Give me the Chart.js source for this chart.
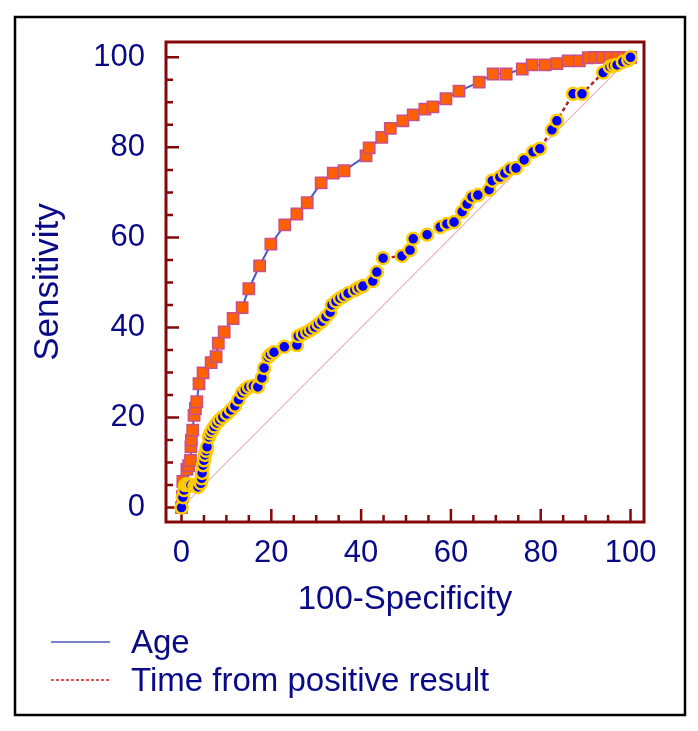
<!DOCTYPE html>
<html>
<head>
<meta charset="utf-8">
<script src="https://cdn.jsdelivr.net/npm/chart.js@4.4.1/dist/chart.umd.min.js"></script>
<style>
  html, body { margin: 0; padding: 0; background: #fff; }
  canvas { display: block; }
</style>
</head>
<body>
<canvas id="roc" width="698" height="731"></canvas>
<script>
// --- data ---
const ageX = [0, 0.2, 0.3, 1.2, 1.6, 2, 2.1, 2.2, 2.5, 2.8, 3.1, 3.4, 3.9, 4.8, 6.6, 7.7, 8.2, 9.5, 11.5, 13.5, 15, 17.4, 19.9, 23, 25.7, 28, 31.1, 33.8, 36.2, 41.1, 41.8, 44.6, 46.5, 49.3, 51.6, 54.2, 56, 58.9, 61.8, 66.3, 69.4, 72.3, 75.9, 78.1, 81, 83.6, 86.1, 88.6, 90.6, 92.1, 93.7, 95.4, 97, 98.5, 100];
const ageY = [0, 2.5, 5.8, 8.5, 9.3, 10.5, 13.5, 15, 17.2, 20.5, 22, 23.5, 27.5, 29.9, 32.2, 33.5, 36.5, 39, 42, 44.4, 48.6, 53.7, 58.5, 62.8, 65.2, 67.7, 72.1, 74.3, 74.8, 78.1, 79.9, 82.2, 84.2, 85.9, 87.2, 88.5, 89, 90.8, 92.5, 94.5, 96.3, 96.3, 97.4, 98.3, 98.3, 98.6, 99.2, 99.2, 99.9, 100, 100, 100, 100, 100, 100];

const timeX = [0, 0.3, 0.6, 0.8, 1.2, 1.6, 2.1, 2.9, 3.4, 3.7, 4.3, 4.5, 4.6, 4.8, 5.0, 5.2, 5.5, 5.7, 6.1, 6.4, 6.8, 7.3, 7.9, 8.5, 9.2, 10.1, 11.0, 11.9, 12.7, 13.5, 14.2, 15, 16, 17, 17.9, 18.4, 19.3, 19.8, 20.6, 22.9, 25.7, 26, 27, 28, 28.8, 29.7, 30.5, 31.3, 32.2, 33.1, 33.5, 34.4, 35.3, 36.2, 37.1, 38.6, 39.5, 40.4, 42.6, 43.5, 44.9, 49.1, 50.9, 51.6, 54.7, 57.6, 59.1, 60.7, 62.5, 63.6, 64.7, 66, 68.5, 69.2, 70.9, 72, 73.2, 74.5, 76.3, 78.3, 79.8, 82.5, 83.6, 87.2, 89.2, 93.9, 95.4, 96.2, 97, 98.3, 99.5, 100];
const timeY = [0, 2.3, 3.9, 5, 5.2, 5.1, 5, 4.8, 4.7, 4.6, 5.4, 6.5, 7.7, 9.4, 10.5, 11.7, 12.6, 13.5, 15.7, 16.5, 17.2, 18, 18.8, 19.5, 20.1, 20.8, 21.7, 22.6, 24, 25.5, 26.2, 26.8, 27, 26.8, 28.8, 31, 33.4, 34, 34.5, 35.7, 36.1, 38.1, 38.5, 39, 39.5, 40.1, 40.8, 41.4, 42.4, 43.4, 45, 45.8, 46.5, 47, 47.6, 48.3, 48.8, 49.2, 50.3, 52.3, 55.4, 55.9, 57.2, 59.7, 60.6, 62.3, 63, 63.4, 65.7, 67.4, 69, 69.4, 70.6, 72.6, 73.4, 74.3, 75.2, 75.4, 77.2, 79, 79.7, 83.9, 85.9, 91.9, 91.9, 96.6, 97.9, 98.2, 98.3, 99, 99.4, 100];

const diagX = [0, 100];
const diagY = [0, 100];

const tickValues = [0, 20, 40, 60, 80, 100];
const minorStep = 5;

const seriesLabels = ['Age', 'Time from positive result'];
const axisTitles = { x: '100-Specificity', y: 'Sensitivity' };

// --- styles ---
const NAVY = '#0a0a86';
const FRAME = '#840808';
const FONT = '"Liberation Sans", Arial, sans-serif';

const toPoints = (xs, ys) => xs.map((x, i) => ({ x, y: ys[i] }));

// page border, plot frame and inward tick marks
const framePlugin = {
  id: 'frame',
  beforeDraw(chart) {
    const ctx = chart.ctx;
    ctx.save();
    ctx.fillStyle = '#fff';
    ctx.fillRect(0, 0, chart.width, chart.height);
    ctx.strokeStyle = '#000';
    ctx.lineWidth = 2.5;
    ctx.strokeRect(15, 17, 670, 698);
    ctx.restore();
  },
  beforeDatasetsDraw(chart) {
    const { ctx, chartArea: a, scales: { x, y } } = chart;
    ctx.save();
    ctx.strokeStyle = FRAME;
    ctx.lineWidth = 3;
    ctx.strokeRect(a.left, a.top, a.right - a.left, a.bottom - a.top);
    ctx.lineWidth = 2.5;
    for (let v = 0; v <= 100; v += minorStep) {
      const len = v % 20 === 0 ? 13 : 7;
      const px = x.getPixelForValue(v);
      const py = y.getPixelForValue(v);
      ctx.beginPath();
      ctx.moveTo(px, a.bottom);
      ctx.lineTo(px, a.bottom - len);
      ctx.moveTo(a.left, py);
      ctx.lineTo(a.left + len, py);
      ctx.stroke();
    }
    ctx.restore();
  }
};

// legend below the axis title
const legendPlugin = {
  id: 'lineLegend',
  afterDraw(chart) {
    const ctx = chart.ctx;
    const rows = [
      { ds: chart.data.datasets[1], y: 642 },
      { ds: chart.data.datasets[2], y: 680 }
    ];
    ctx.save();
    rows.forEach(r => {
      ctx.strokeStyle = r.ds.legendColor;
      ctx.lineWidth = 1.5;
      ctx.setLineDash(r.ds.legendDash || []);
      ctx.beginPath();
      ctx.moveTo(51, r.y);
      ctx.lineTo(110, r.y);
      ctx.stroke();
      ctx.setLineDash([]);
      ctx.fillStyle = NAVY;
      ctx.font = `33px ${FONT}`;
      ctx.textBaseline = 'alphabetic';
      ctx.fillText(r.ds.label, 131, r.y + 11);
    });
    ctx.restore();
  }
};

new Chart(document.getElementById('roc'), {
  type: 'scatter',
  data: {
    datasets: [
      {
        label: 'diagonal',
        data: toPoints(diagX, diagY),
        showLine: true,
        borderColor: '#e8b4b4',
        borderWidth: 1.2,
        pointRadius: 0,
        order: 3
      },
      {
        label: seriesLabels[0],
        data: toPoints(ageX, ageY),
        showLine: true,
        borderColor: '#4a58c4',
        legendColor: '#4a58c4',
        borderWidth: 2,
        pointStyle: 'rect',
        pointRadius: 8,
        pointBackgroundColor: '#ff6000',
        pointBorderColor: '#c8508a',
        pointBorderWidth: 1.5,
        order: 2
      },
      {
        label: seriesLabels[1],
        data: toPoints(timeX, timeY),
        showLine: true,
        borderColor: '#b02424',
        legendColor: '#d02020',
        legendDash: [3, 2],
        borderWidth: 2.5,
        borderDash: [4, 3],
        pointStyle: 'circle',
        pointRadius: 6,
        pointBackgroundColor: '#0000ff',
        pointBorderColor: '#ffcc00',
        pointBorderWidth: 2.5,
        order: 1
      }
    ]
  },
  options: {
    responsive: false,
    animation: false,
    events: [],
    devicePixelRatio: 1,
    layout: { padding: { left: 23, top: 42, right: 54, bottom: 107 } },
    plugins: { legend: { display: false }, tooltip: { enabled: false } },
    scales: {
      x: {
        type: 'linear',
        min: -3.45,
        max: 103.0,
        afterFit: s => { s.height = 102; },
        afterBuildTicks: s => { s.ticks = tickValues.map(v => ({ value: v })); },
        grid: { display: false },
        border: { display: false },
        ticks: { color: NAVY, padding: 5, font: { family: FONT, size: 31 }, maxRotation: 0 },
        title: { display: true, text: axisTitles.x, color: NAVY, font: { family: FONT, size: 33 } }
      },
      y: {
        type: 'linear',
        min: -3.2,
        max: 103.4,
        afterFit: s => { s.width = 143; },
        afterBuildTicks: s => { s.ticks = tickValues.map(v => ({ value: v })); },
        grid: { display: false },
        border: { display: false },
        ticks: { color: NAVY, padding: 13, font: { family: FONT, size: 31 } },
        title: { display: true, text: axisTitles.y, color: NAVY, font: { family: FONT, size: 35 } }
      }
    }
  },
  plugins: [framePlugin, legendPlugin]
});
</script>
</body>
</html>
